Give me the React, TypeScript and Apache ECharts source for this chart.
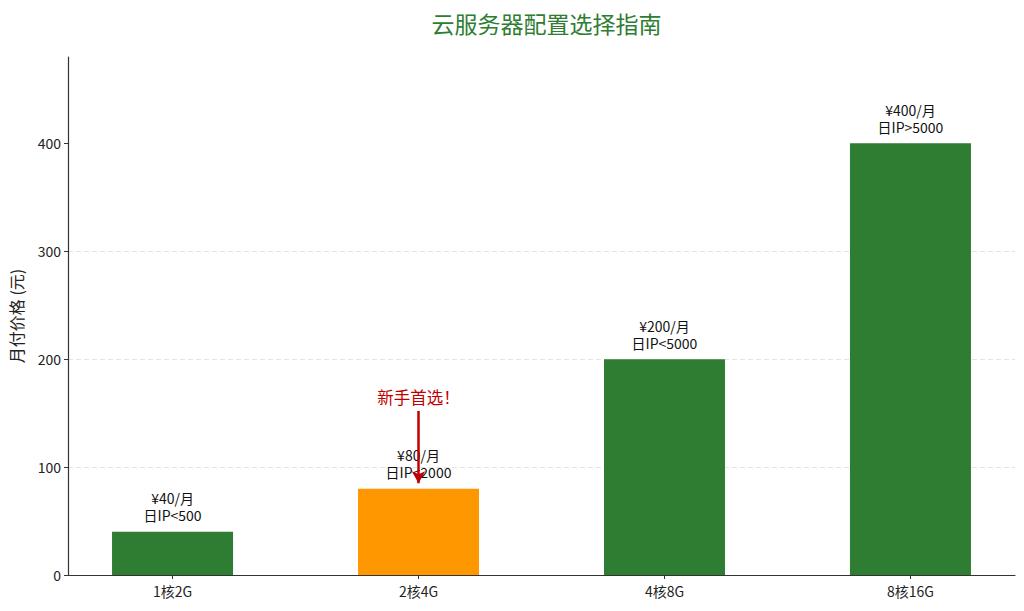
import React, { useEffect, useRef } from "react";
import * as echarts from "echarts";

const categories = ["1核2G", "2核4G", "4核8G", "8核16G"];
const prices = [40, 80, 200, 400];
const ipLimits = ["日IP<500", "日IP<2000", "日IP<5000", "日IP>5000"];
const yTicks = [0, 100, 200, 300, 400];
const highlightIndex = 1;
const annotationText = "新手首选！";
const arrowFrom = 152;
const arrowTo = 85;
const annotationTextY = 165;

const GREEN = "#2e7d32";
const ORANGE = "#ff9800";
const RED = "#c00000";
const FONT = "'Noto Sans CJK SC', 'Noto Sans', sans-serif";

export default function App() {
  const ref = useRef<HTMLDivElement>(null);
  useEffect(() => {
    if (!ref.current) return;
    const chart = echarts.init(ref.current, undefined, { renderer: "svg" });
    chart.setOption({
      animation: false,
      textStyle: { fontFamily: FONT },
      title: {
        text: "云服务器配置选择指南",
        left: 541.5,
        textAlign: "center",
        top: 6,
        textStyle: { fontFamily: FONT, fontSize: 23, fontWeight: "normal", color: GREEN },
      },
      grid: { left: 68, right: 9, top: 57, bottom: 36 },
      xAxis: {
        type: "value",
        min: -0.425,
        max: 3.425,
        splitLine: { show: false },
        axisLine: { show: true, onZero: false, lineStyle: { color: "#333", width: 1.2 } },
        axisTick: { show: true, customValues: [0, 1, 2, 3], length: 4, lineStyle: { color: "#333" } },
        axisLabel: {
          customValues: [0, 1, 2, 3],
          formatter: (v: number) => categories[Math.round(v)] ?? "",
          color: "#222",
          fontSize: 14,
          margin: 9,
          fontFamily: FONT,
        },
      },
      yAxis: {
        type: "value",
        min: 0,
        max: 480,
        interval: 100,
        name: "月付价格 (元)",
        nameLocation: "middle",
        nameGap: 44,
        nameTextStyle: { fontSize: 16, color: "#222", fontFamily: FONT },
        axisLine: { show: true, onZero: false, lineStyle: { color: "#333", width: 1.2 } },
        axisTick: { show: true, customValues: yTicks, length: 4, lineStyle: { color: "#333" } },
        axisLabel: {
          customValues: yTicks,
          color: "#222",
          fontSize: 14,
          margin: 7,
          fontFamily: FONT,
        },
        splitLine: {
          show: true,
          showMinLine: false,
          showMaxLine: false,
          lineStyle: { color: "#e3e3e3", type: [5, 3], width: 1 },
        },
      },
      series: [
        {
          type: "bar",
          barWidth: 121,
          data: categories.map((c, i) => ({
            value: [i, prices[i]],
            itemStyle: { color: i === highlightIndex ? ORANGE : GREEN },
          })),
          label: {
            show: true,
            position: "top",
            distance: 8,
            color: "#111",
            fontSize: 14,
            lineHeight: 17,
            align: "center",
            fontFamily: FONT,
            formatter: (p: any) => `¥${prices[p.dataIndex]}/月\n${ipLimits[p.dataIndex]}`,
          },
          markLine: {
            silent: true,
            symbol: ["none", "arrow"],
            symbolSize: [10, 12],
            label: { show: false },
            lineStyle: { color: RED, width: 2.5, type: "solid" },
            data: [[{ coord: [highlightIndex, arrowFrom] }, { coord: [highlightIndex, arrowTo] }]],
          },
          markPoint: {
            silent: true,
            symbol: "circle",
            symbolSize: 0,
            label: {
              show: true,
              position: "inside",
              formatter: annotationText,
              color: RED,
              fontSize: 16.5,
              fontFamily: FONT,
            },
            data: [{ coord: [highlightIndex, annotationTextY] }],
          },
        },
      ],
    });
    return () => chart.dispose();
  }, []);
  return (
    <div
      ref={ref}
      style={{ position: "fixed", left: 0, top: 0, width: 1024, height: 611, background: "#fff" }}
    />
  );
}
